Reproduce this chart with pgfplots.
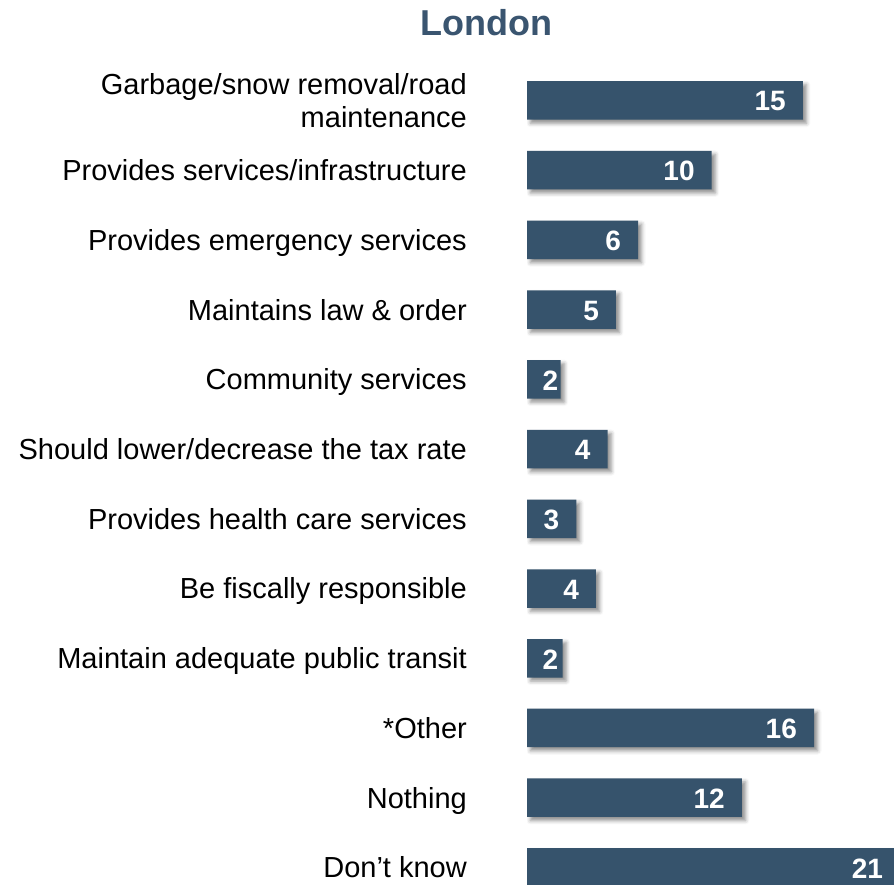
\documentclass[border=0pt]{standalone}
\usepackage{pgfplots}
\pgfplotsset{compat=1.18}
\usepackage{pgfplotstable}
\usepackage{fontspec}
\setmainfont{Liberation Sans}
\usetikzlibrary{shadows.blur}
\definecolor{barc}{HTML}{36536C}
\definecolor{titc}{HTML}{3A5570}

% val = bar length, lx = right edge of the value label
\pgfplotstableread{
y val lab lx
0 15.16 15 14.23
1 10.15 10 9.22
2 6.10 6 5.17
3 4.89 5 3.96
4 1.85 2 1.72
5 4.43 4 3.50
6 2.71 3 1.78
7 3.79 4 2.86
8 1.96 2 1.72
9 15.77 16 14.84
10 11.81 12 10.88
11 20.50 21 19.57
}\datatable

\begin{document}
\begin{tikzpicture}
\useasboundingbox (0pt,0pt) rectangle (894pt,885pt);
\node[anchor=base, text=titc, font=\fontsize{36pt}{40pt}\selectfont\bfseries, inner sep=0pt] at (486.7pt,849pt) {London};
\begin{axis}[
  at={(527pt,0pt)}, anchor=south west,
  scale only axis, width=367pt, height=885pt,
  xmin=0, xmax=20.165,
  ymin=-1.4415, ymax=11.252, y dir=reverse,
  axis line style={draw=none},
  major tick length=0pt,
  xtick=\empty,
  ytick={0,...,11},
  yticklabels={
    {\raisebox{-16.3pt}{\begin{tabular}[b]{@{}r@{}}Garbage/snow removal/road\\maintenance\end{tabular}}},
    Provides services/infrastructure,
    Provides emergency services,
    Maintains law \& order,
    Community services,
    Should lower/decrease the tax rate,
    Provides health care services,
    Be fiscally responsible,
    Maintain adequate public transit,
    *Other,
    Nothing,
    Don’t know},
  yticklabel style={anchor=base east, inner sep=0pt, xshift=-60pt, yshift=-10.4pt,
    font=\fontsize{29pt}{32.6pt}\selectfont, text=black},
]
\addplot[xbar, fill=barc, draw=none, bar width=38.5pt,
  blur shadow={shadow xshift=3.5pt, shadow yshift=-3.5pt, shadow blur radius=4pt, shadow opacity=45},
] table[x=val, y=y] {\datatable};
\addplot[only marks, mark=none,
  point meta=explicit symbolic,
  nodes near coords,
  every node near coord/.append style={anchor=east, inner sep=0pt, yshift=-1pt,
    text=white, font=\fontsize{28pt}{30pt}\selectfont\bfseries},
] table[x=lx, y=y, meta=lab] {\datatable};
\end{axis}
\end{tikzpicture}
\end{document}
